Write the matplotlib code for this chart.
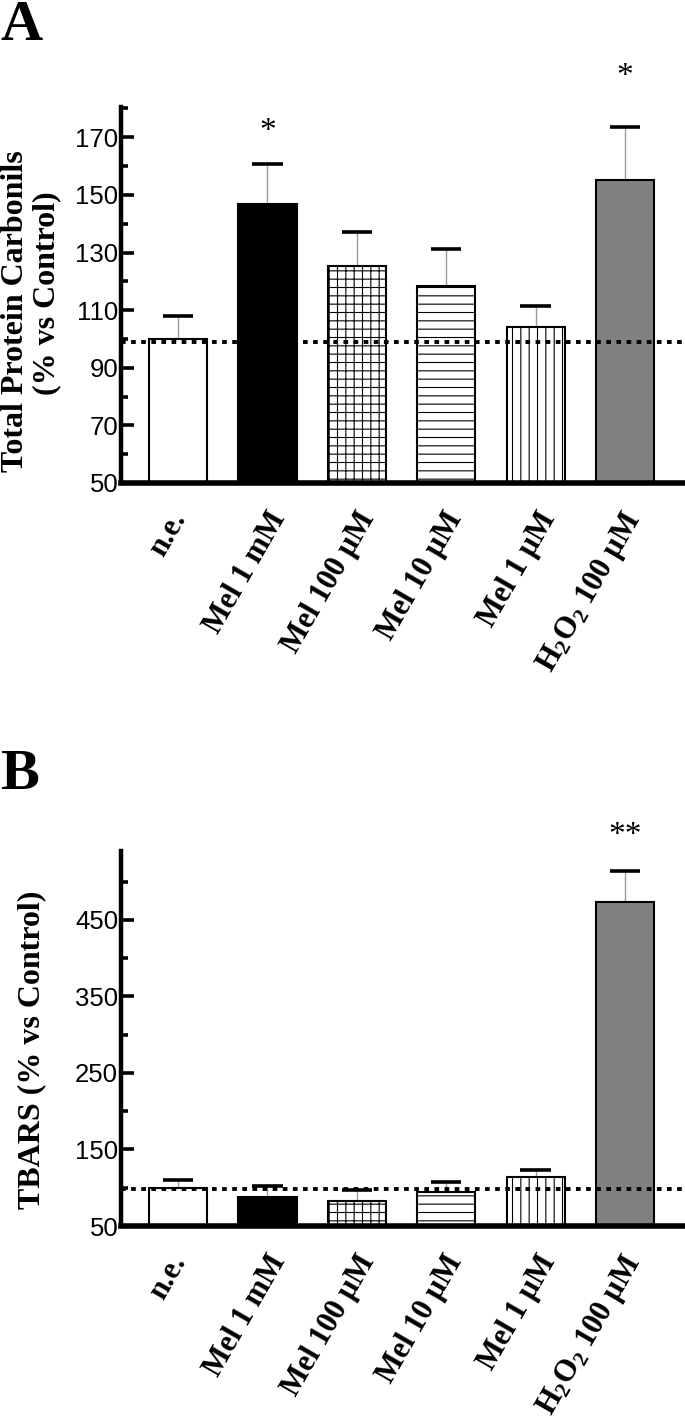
import numpy as np
import matplotlib
matplotlib.use('Agg')
import matplotlib.pyplot as plt
import matplotlib.transforms as mtransforms

plt.rcParams['font.family'] = ['Liberation Sans', 'DejaVu Sans']
plt.rcParams['mathtext.fontset'] = 'custom'
plt.rcParams['mathtext.rm'] = 'Liberation Serif:bold'
plt.rcParams['mathtext.bf'] = 'Liberation Serif:bold'
plt.rcParams['mathtext.it'] = 'Liberation Serif:bold'
plt.rcParams['mathtext.default'] = 'rm'
plt.rcParams['hatch.linewidth'] = 0.8

# Daten
labels = ['n.e.', 'Mel 1 mM', 'Mel 100 µM', 'Mel 10 µM', 'Mel 1 µM', 'H$_2$O$_2$ 100 µM']
faces = ['white', 'black', 'white', 'white', 'white', '#808080']
hatches = ['', '', '++', '--', '||', '']

carb = [100, 147, 125.3, 118.5, 104, 155]
carb_err = [8, 13.8, 11.7, 12.7, 7.5, 18.5]
carb_ref = 99
carb_stars = ['', '*', '', '', '', '*']
carb_star_y = [0, 172, 0, 0, 0, 191]

tbars = [100, 88, 83, 95, 113.5, 473]
tbars_err = [10, 14, 14, 12, 9.5, 41]
tbars_ref = 98
tbars_stars = ['', '', '', '', '', '**']
tbars_star_y = [0, 0, 0, 0, 0, 560]

# Verschiebung der Beschriftungen (px)
label_shift = [14, 24, 24, 22, 26, 24]

fig = plt.figure(figsize=(6.85, 14.25), dpi=100)
W, H = 685, 1425


def make_axes(top_px, bottom_px):
    return fig.add_axes([121 / W, 1 - bottom_px / H, 1 - 121 / W, (bottom_px - top_px) / H])


def draw_panel(ax, vals, errs, ref, stars, star_y, ylim, major, minor):
    x = np.arange(len(vals))
    ax.bar(x, [v - ylim[0] for v in vals], bottom=ylim[0], width=0.65,
           color=faces, edgecolor='black', linewidth=1.5, hatch=hatches, zorder=2)
    tops = [v + e for v, e in zip(vals, errs)]
    ax.vlines(x, vals, tops, color='#9a9a9a', linewidth=1.0, zorder=1)
    ax.hlines(tops, x - 0.17, x + 0.17, color='black', linewidth=2.6, zorder=3)
    ax.axhline(ref, color='black', linestyle=(0, (1.2, 1.4)), linewidth=2.8, zorder=4)
    for xi, s, sy in zip(x, stars, star_y):
        if s:
            ax.text(xi, sy, s, ha='center', va='center', fontsize=24,
                    family='Liberation Serif', clip_on=False)
    ax.set_xlim(-0.638, 5.67)
    ax.set_ylim(*ylim)
    ax.set_yticks(major)
    ax.set_yticks(minor, minor=True)
    ax.tick_params(axis='y', which='major', direction='in', length=9, width=2.6,
                   labelsize=18.5, pad=2)
    ax.tick_params(axis='y', which='minor', direction='in', length=5, width=2.6)
    ax.tick_params(axis='x', length=0, pad=17)
    ax.set_xticks(x)
    ax.set_xticklabels(labels, rotation=60, ha='right', va='top',
                       family='Liberation Serif', fontweight='bold', fontsize=22)
    for t, dx in zip(ax.get_xticklabels(), label_shift):
        off = mtransforms.ScaledTranslation(dx / 100, 0, fig.dpi_scale_trans)
        t.set_transform(t.get_transform() + off)
    for side in ['top', 'right']:
        ax.spines[side].set_visible(False)
    ax.spines['left'].set_linewidth(3.2)
    ax.spines['bottom'].set_linewidth(4)


# Panel A
axA = make_axes(107, 483)
draw_panel(axA, carb, carb_err, carb_ref, carb_stars, carb_star_y, (50, 180.5),
           [50, 70, 90, 110, 130, 150, 170], [60, 80, 100, 120, 140, 160, 180])
fig.text(16 / W, 1 - 311 / H, 'Total Protein Carbonils', rotation=90, ha='center', va='center',
         family='Liberation Serif', fontweight='bold', fontsize=23)
fig.text(47 / W, 1 - 293 / H, '(% vs Control)', rotation=90, ha='center', va='center',
         family='Liberation Serif', fontweight='bold', fontsize=23)
fig.text(0.0, 1 - 0 / H, 'A', ha='left', va='top', family='Liberation Serif',
         fontweight='bold', fontsize=42)

# Panel B
axB = make_axes(851, 1226)
draw_panel(axB, tbars, tbars_err, tbars_ref, tbars_stars, tbars_star_y, (50, 540),
           [50, 150, 250, 350, 450], [100, 200, 300, 400, 500])
fig.text(32 / W, 1 - 1050 / H, 'TBARS (% vs Control)', rotation=90, ha='center', va='center',
         family='Liberation Serif', fontweight='bold', fontsize=23)
fig.text(0.0, 1 - 749 / H, 'B', ha='left', va='top', family='Liberation Serif',
         fontweight='bold', fontsize=42)

fig.savefig('out.png', dpi=100)
